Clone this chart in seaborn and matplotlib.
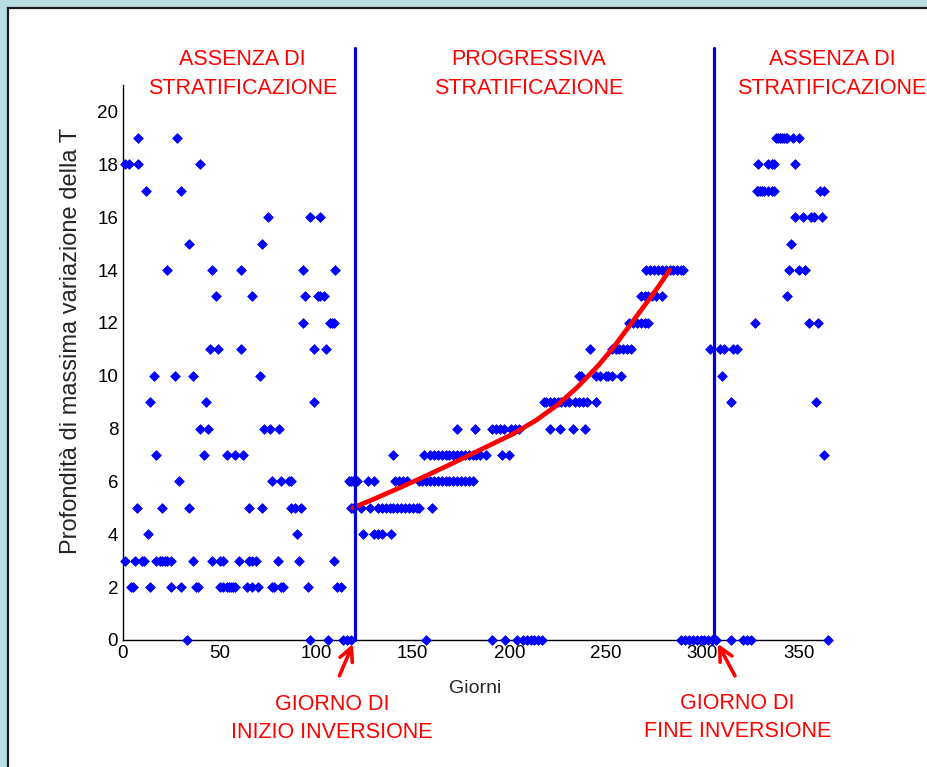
import numpy as np
import pandas as pd
import seaborn as sns
import matplotlib.pyplot as plt
from matplotlib.patches import Rectangle

# =========================
# DATA (giorno dell'anno per ogni profondita)
# =========================

d0 = [33, 97, 106, 114, 116, 118, 157, 191, 198, 204, 207, 209, 211, 213, 215, 217,
      289, 291, 293, 295, 297, 299, 301, 303, 305, 307, 315, 321, 323, 325, 365]
d2 = [4, 5, 14, 25, 30, 38, 39, 50, 52, 54, 55, 56, 57, 58, 64, 67, 70, 77, 78,
      82, 83, 96, 111, 113]
d3 = [1, 6, 10, 11, 17, 19, 20, 22, 23, 25, 36, 46, 50, 52, 60, 65, 67, 69, 80,
      91, 109]
d4 = [13, 90, 124, 130, 132, 134, 139]
d5 = [7, 20, 34, 65, 72, 87, 89, 92, 118, 119, 123, 128, 132, 134, 136, 138, 140,
      142, 144, 146, 148, 150, 152, 153, 160]
d6 = [29, 77, 82, 86, 87, 117, 118, 119, 120, 121, 127, 130, 141, 143, 145, 147,
      153, 155, 157, 159, 161, 163, 165, 167, 169, 171, 173, 175, 177, 179, 181]
d7 = [17, 42, 54, 58, 62, 140, 156, 159, 161, 163, 165, 167, 169, 171, 173, 175,
      177, 179, 181, 183, 185, 188, 196, 200, 363]
d8 = [40, 44, 73, 76, 81, 173, 182, 191, 193, 195, 197, 201, 203, 205, 221, 226,
      233, 239]
d9 = [14, 43, 99, 218, 219, 221, 223, 225, 227, 229, 231, 234, 236, 238, 240, 245,
      315, 359]
d10 = [16, 27, 36, 71, 236, 237, 245, 247, 250, 251, 253, 258, 310]
d11 = [45, 49, 61, 99, 105, 242, 253, 255, 257, 259, 261, 263, 304, 309, 311, 316, 318]
d12 = [93, 107, 108, 109, 262, 264, 266, 268, 270, 272, 327, 355, 360]
d13 = [48, 67, 94, 101, 102, 104, 268, 270, 272, 274, 276, 279, 344]
d14 = [23, 46, 61, 93, 110, 271, 273, 275, 277, 279, 281, 283, 285, 287, 289, 290,
       345, 350, 353]
d15 = [34, 72, 346]
d16 = [75, 97, 102, 348, 352, 356, 358, 362]
d17 = [12, 30, 328, 329, 330, 331, 332, 334, 336, 337, 361, 363]
d18 = [1, 3, 8, 40, 329, 334, 336, 337, 348]
d19 = [8, 28, 338, 339, 340, 341, 342, 343, 344, 347, 350]

# curva di tendenza (rossa)
trend_giorni = [119, 132, 150, 167, 184, 202, 214, 225, 235, 246, 254, 266, 277, 283]
trend_prof = [5.0, 5.4, 5.98, 6.56, 7.16, 7.8, 8.32, 8.9, 9.55, 10.38, 11.08, 12.26,
              13.35, 14.0]

inizio_inversione = 120
fine_inversione = 306

x_ticks = [0, 50, 100, 150, 200, 250, 300, 350]
y_ticks = [0, 2, 4, 6, 8, 10, 12, 14, 16, 18, 20]

# =========================
# DATAFRAME
# =========================

per_profondita = {0: d0, 2: d2, 3: d3, 4: d4, 5: d5, 6: d6, 7: d7, 8: d8, 9: d9,
                  10: d10, 11: d11, 12: d12, 13: d13, 14: d14, 15: d15, 16: d16,
                  17: d17, 18: d18, 19: d19}

df = pd.DataFrame(
    [(g, p) for p, giorni in per_profondita.items() for g in giorni],
    columns=['giorni', 'profondita']
)
trend = pd.DataFrame({'giorni': trend_giorni, 'profondita': trend_prof})

# =========================
# PLOT
# =========================

sns.set_style('white')
plt.rcParams['font.family'] = ['Liberation Sans', 'DejaVu Sans']

fig = plt.figure(figsize=(9.28, 7.67), dpi=100, facecolor='#b8dee1')
pannello = Rectangle((8 / 928, -0.02), 1.0, 1 - 8 / 767 + 0.02,
                     transform=fig.transFigure, facecolor='white',
                     edgecolor='#1c1c1c', linewidth=1.6, zorder=-10)
fig.add_artist(pannello)

ax = fig.add_axes([123 / 928, 127 / 767, 705 / 928, 555 / 767])
ax.set_facecolor('none')
ax.set_zorder(1)

blu = '#0000ff'
rosso = '#ff0000'

sns.scatterplot(data=df, x='giorni', y='profondita', marker='D', s=24,
                color=blu, edgecolor=blu, linewidth=0.6, ax=ax, zorder=3,
                clip_on=False)

sns.lineplot(data=trend, x='giorni', y='profondita', color=rosso, linewidth=3.4,
             ax=ax, zorder=4, solid_capstyle='round', solid_joinstyle='round')

for xv in [inizio_inversione, fine_inversione]:
    ax.plot([xv, xv], [0, 22.4], color='#0000dd', linewidth=2.3, clip_on=False, zorder=5)

ax.set_xlim(0, 365)
ax.set_ylim(0, 21)
ax.set_xticks(x_ticks)
ax.set_yticks(y_ticks)
ax.tick_params(direction='in', length=6, width=1, labelsize=13.5, colors='black')

for s in ['top', 'right']:
    ax.spines[s].set_visible(False)
for s in ['left', 'bottom']:
    ax.spines[s].set_color('black')
    ax.spines[s].set_linewidth(1.0)

ax.set_xlabel('Giorni', fontsize=14, labelpad=13)
ax.set_ylabel('Profondità di massima variazione della T', fontsize=17)
ax.yaxis.set_label_coords(-0.058, 0.538)

# etichette rosse
kw = dict(color=rosso, fontsize=15.5, ha='center', va='center', linespacing=1.45,
          clip_on=False)
ax.text(62, 21.42, 'ASSENZA DI\nSTRATIFICAZIONE', **kw)
ax.text(210, 21.42, 'PROGRESSIVA\nSTRATIFICAZIONE', **kw)
ax.text(367, 21.42, 'ASSENZA DI\nSTRATIFICAZIONE', **kw)

ax.text(108.3, -2.97, 'GIORNO DI\nINIZIO INVERSIONE', **kw)
ax.text(318, -2.92, 'GIORNO DI\nFINE INVERSIONE', **kw)

freccia = dict(arrowstyle='->', color=rosso, lw=2.6, mutation_scale=24)
ax.annotate('', xy=(119.6, -0.05), xytext=(111.5, -1.45), arrowprops=freccia,
            annotation_clip=False)
ax.annotate('', xy=(307.3, -0.05), xytext=(317.5, -1.45), arrowprops=freccia,
            annotation_clip=False)

plt.savefig('out.png', dpi=100, facecolor=fig.get_facecolor())
